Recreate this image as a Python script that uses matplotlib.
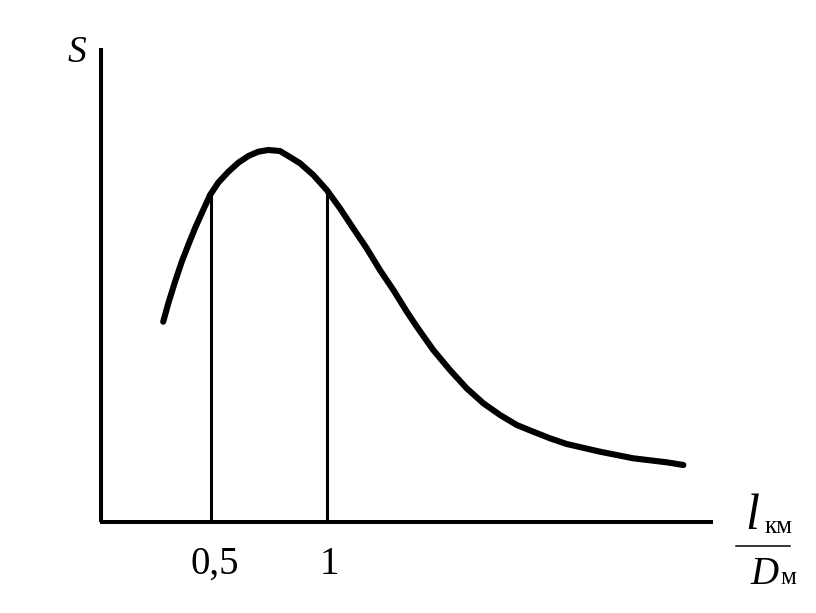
import matplotlib
matplotlib.use("Agg")
import matplotlib.pyplot as plt
from matplotlib.lines import Line2D

# Curve S(l_km / D_m) (arbitrary S units)
x_ratio = [0.294, 0.316, 0.345, 0.374, 0.402, 0.431, 0.460, 0.496, 0.531, 0.575,
           0.618, 0.661, 0.704, 0.747, 0.797, 0.826, 0.884, 0.941, 0.999, 1.056,
           1.113, 1.171, 1.228, 1.286, 1.344, 1.387, 1.458, 1.530, 1.602, 1.674,
           1.746, 1.818, 1.889, 1.961, 2.033, 2.177, 2.320, 2.464, 2.536]
s_values = [2.003, 2.187, 2.403, 2.603, 2.770, 2.937, 3.087, 3.270, 3.393, 3.503,
            3.593, 3.660, 3.703, 3.720, 3.710, 3.670, 3.587, 3.470, 3.320, 3.137,
            2.937, 2.737, 2.520, 2.320, 2.103, 1.953, 1.720, 1.520, 1.337, 1.187,
            1.070, 0.970, 0.903, 0.837, 0.780, 0.703, 0.637, 0.597, 0.570]

# marked positions and their tick labels
mark_x = [0.5, 1.0]
mark_top = [3.29, 3.32]
mark_labels = ["0,5", "1"]

W, H = 816, 613
fig = plt.figure(figsize=(W / 100, H / 100), dpi=100)
ax = fig.add_axes([0, 0, 1, 1])
ax.set_xlim(-95 / 232, (W - 95) / 232)
ax.set_ylim((522 - H) / 100, 522 / 100)
ax.axis("off")

# axis lines
x0 = 0.028
ax.plot([x0, x0], [0, 4.74], color="black", lw=2.9, solid_capstyle="butt")
ax.plot([x0 - 0.008, 2.664], [0, 0], color="black", lw=2.9, solid_capstyle="butt")

# vertical marks
for xm, top in zip(mark_x, mark_top):
    ax.plot([xm, xm], [0, top], color="black", lw=2.2, solid_capstyle="butt")

# curve
ax.plot(x_ratio, s_values, color="black", lw=4.4, solid_capstyle="round",
        solid_joinstyle="round", antialiased=True)

serif = "Liberation Serif"

def fx(px):
    return px / W

def fy(py):
    return 1 - py / H

# tick labels
for lbl, px in zip(mark_labels, [215, 329]):
    fig.text(fx(px), fy(574), lbl, ha="center", va="baseline", fontsize=28,
             family=serif)

# y-axis label
fig.text(fx(77), fy(62), "S", ha="center", va="baseline", fontsize=27,
         family=serif, style="italic")

# x-axis label as fraction l_км / D_м
fig.text(fx(752), fy(529), "l", ha="center", va="baseline", fontsize=36,
         family=serif, style="italic")
fig.text(fx(765), fy(533), "км", ha="left", va="baseline", fontsize=18,
         family=serif)
fig.add_artist(Line2D([fx(736), fx(790)], [fy(546), fy(546)], color="black",
                      lw=1.1, transform=fig.transFigure))
fig.text(fx(764), fy(584), "D", ha="center", va="baseline", fontsize=28,
         family=serif, style="italic")
fig.text(fx(780), fy(584), "м", ha="left", va="baseline", fontsize=18,
         family=serif)

fig.savefig("out.png", dpi=100, facecolor="white")
